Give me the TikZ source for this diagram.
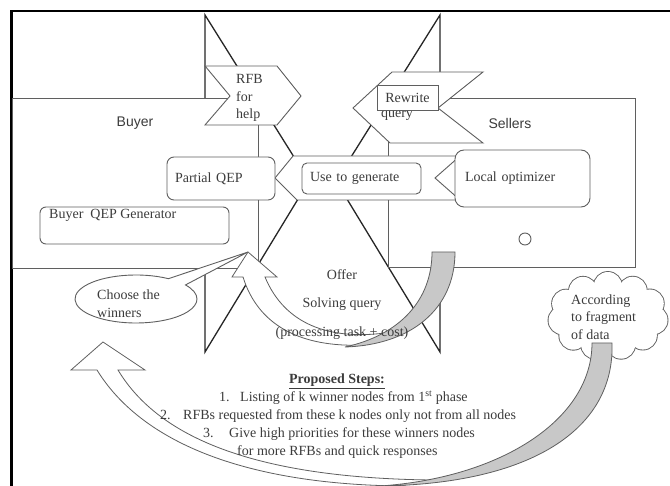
\documentclass[tikz,border=0pt]{standalone}
\usepackage{fontspec}
\setmainfont{Liberation Serif}
\newfontfamily\sidefont{Liberation Sans}
\usetikzlibrary{shapes.callouts}
\definecolor{inkgray}{RGB}{60,60,60}
\definecolor{linegray}{RGB}{95,95,95}
\definecolor{shade}{RGB}{200,200,200}
\begin{document}
\begin{tikzpicture}[x=1pt,y=-1pt,
  txt/.style={font=\fontsize{14}{17.5}\selectfont, text=inkgray, inner sep=0pt},
  sidelabel/.style={font=\sidefont\fontsize{14}{17}\selectfont, text=inkgray, inner sep=0pt},
  panel/.style={draw=linegray, line width=0.9pt, fill=white},
  roundbox/.style={panel, rounded corners=7pt, font=\fontsize{14}{17}\selectfont, text=inkgray, align=left, inner ysep=0pt},
  wedge/.style={draw=black!85, line width=1.3pt},
  bandarrow/.style={draw=linegray, line width=0.8pt, fill=white},
  backside/.style={draw=linegray, line width=0.8pt, fill=shade},
  cloudrim/.style={draw=linegray, line width=1.8pt, fill=white},
]
\useasboundingbox (0,0) rectangle (670,486);
\fill[white] (0,0) rectangle (670,486);

% outer frame (left and top edges)
\draw[line width=2.4pt] (11.5,486) -- (11.5,11) -- (670,11);

% two facing wedges
\draw[wedge] (205,15) -- (309,181) -- (205,352) -- cycle;
\draw[wedge] (440,15) -- (336,181) -- (440,352) -- cycle;

% buyer and seller panels
\draw[panel] (12,98) rectangle (258,268);
\draw[panel] (388,98) rectangle (635,267);
\node[sidelabel] (buyerlbl) at (135,123) {Buyer};
\node[sidelabel] (sellerlbl) at (510,123) {Sellers};

% request-for-bid chevron
\draw[panel] (205,66) -- (277,66) -- (301,96) -- (277,125) -- (205,125) -- (230,96) -- cycle;
\node[txt, align=left, anchor=west] (rfb) at (236,98) {RFB\\for\\help};

% rewrite chevron
\draw[panel] (353,108) -- (392,72) -- (483,72) -- (438,108) -- (483,143) -- (390,143) -- cycle;
\node[txt] (query) at (397,116) {query};
\node[panel, minimum width=61pt, minimum height=25pt, inner sep=0pt,
      font=\fontsize{14}{17}\selectfont, text=inkgray] (rewrite) at (407.5,97.5) {Rewrite};

% horizontal band towards the partial plan
\draw[panel] (275,178) -- (293,156) -- (460,156) -- (435,178) -- (460,200) -- (297,200) -- cycle;

% rounded boxes
\node[roundbox, text width=92pt, inner xsep=8pt, minimum height=43pt] (partial) at (221,178.5) {Partial QEP};
\node[roundbox, text width=103pt, inner xsep=8pt, minimum height=31pt, rounded corners=5pt] (usegen) at (361.5,178.5) {Use to generate};
\node[roundbox, text width=115pt, inner xsep=10pt, minimum height=57pt, rounded corners=9pt] (localopt) at (522.5,178.5) {Local optimizer};
\node[panel, rounded corners=6pt, minimum width=189pt, minimum height=37pt] (qepgen) at (134.5,225.5) {};
\node[txt, anchor=west] (qepgentxt) at (49,215) {Buyer~~QEP Generator};
\node[draw=linegray, line width=0.9pt, circle, minimum size=12pt, inner sep=0pt] (dot) at (525,239) {};

% callout
\node[ellipse callout, draw=linegray, line width=0.9pt, fill=white, minimum width=122pt, minimum height=48pt,
      callout absolute pointer={(248,252)}, callout pointer arc=22] (choose) at (136,299) {};
\node[txt, align=left, anchor=west] (choosetxt) at (97,303.5) {Choose the\\winners};

% small curved up arrow
\draw[bandarrow] (248,252) -- (277,277) -- (265,277) .. controls (285,325) and (330,340) .. (385,333)
  -- (365,345) .. controls (300,348) and (258,325) .. (243,277) -- (232,277) -- cycle;
\draw[backside] (432,252) -- (455,252) .. controls (455,310) and (410,345) .. (345,347)
  .. controls (400,335) and (432,300) .. (432,252) -- cycle;

% cloud: puffs stroked at double width, then refilled so only the outer rim stays
\foreach \i in {0,...,10}
  \draw[cloudrim, shift={(608,316)}] (\i*32.727+8:46 and 30) circle[radius=14];
\foreach \i in {0,...,10}
  \fill[white, shift={(608,316)}] (\i*32.727+8:46 and 30) circle[radius=14];
\fill[white] (608,316) ellipse[x radius=46, y radius=30];
\node[txt, align=left, anchor=west] (cloudtxt) at (571,317) {According\\to fragment\\of data};

% large curved up arrow
\draw[bandarrow] (103,342) -- (145,370) -- (118,370) .. controls (160,440) and (260,478) .. (432,480)
  -- (400,486) .. controls (240,484) and (140,440) .. (97,370) -- (71,370) -- cycle;
\draw[backside] (592,343) -- (612,343) .. controls (615,430) and (530,484) .. (380,486)
  .. controls (500,478) and (592,420) .. (592,343) -- cycle;

% offer text
\node[txt] (offer) at (342,275) {Offer};
\node[txt] (solving) at (342,304) {Solving query};
\node[txt] (cost) at (342,333) {(processing task + cost)};

% proposed steps
\node[txt, font=\bfseries\fontsize{14}{17}\selectfont] (steps) at (337,381) {\underline{Proposed Steps:}};
\node[txt, anchor=base west] (n1) at (219,401.5) {1.};
\node[txt, anchor=base west] (s1) at (240,401.5) {Listing of k winner nodes from 1\textsuperscript{st} phase};
\node[txt, anchor=base west] (n2) at (160,419.5) {2.};
\node[txt, anchor=base west] (s2) at (183,419.5) {RFBs requested from these k nodes only not from all nodes};
\node[txt, anchor=base west] (n3) at (203,437.5) {3.};
\node[txt, anchor=base west] (s3) at (229,437.5) {Give high priorities for these winners nodes};
\node[txt, anchor=base west] (s4) at (237,455.5) {for more RFBs and quick responses};
\end{tikzpicture}
\end{document}
